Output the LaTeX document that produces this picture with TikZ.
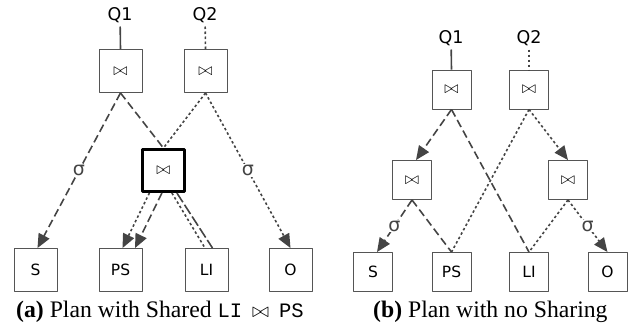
\documentclass[tikz,border=0pt]{standalone}
\usepackage{fontspec}
\setmainfont{Liberation Serif}
\setmonofont{Liberation Mono}
\newfontfamily\boxfont{DejaVu Sans}
\usetikzlibrary{arrows.meta}
\definecolor{edgegray}{HTML}{444444}
\definecolor{boxgray}{HTML}{555555}
\tikzset{
  opbox/.style={draw=boxgray,line width=0.9pt,fill=white,minimum size=43pt,inner sep=0pt,
    font=\boxfont\fontsize{15.5}{18}\selectfont},
  smallbox/.style={opbox,minimum size=39pt},
  sharedbox/.style={opbox,draw=black,line width=3pt,minimum size=42pt},
  qlab/.style={font=\boxfont\fontsize{17.5}{20}\selectfont,inner sep=0pt,outer sep=6pt,
    text height=13pt,text depth=0pt},
  sig/.style={font=\boxfont\fontsize{19}{21}\selectfont,fill=white,inner sep=1pt,midway},
  qoneline/.style={draw=edgegray,line width=1.6pt,dash pattern=on 8pt off 4pt},
  qtwoline/.style={draw=edgegray,line width=1.6pt,dash pattern=on 2.5pt off 2.5pt},
  tip/.style={-{Triangle[length=14pt,width=12pt]},edgegray},
  caption text/.style={font=\fontsize{23.7}{26}\selectfont,inner sep=0pt,anchor=base west}
}
\newcommand{\jn}{{\fontsize{16}{18}\selectfont$\bowtie$}}
\begin{document}
\begin{tikzpicture}[x=1pt,y=-1pt,line cap=butt,line join=round]
  \useasboundingbox (0,0) rectangle (632,330);
  % (a) shared join
  \node[qlab] (qA1) at (120,14) {Q1};
  \node[qlab] (qA2) at (205,14) {Q2};
  \node[opbox] (jA1) at (120.5,71) {\jn};
  \node[opbox] (jA2) at (205.5,71) {\jn};
  \node[sharedbox] (jsh) at (163.4,170.5) {\jn};
  \node[opbox] (sA) at (35.5,270) {S};
  \node[opbox] (psA) at (120.5,270) {PS};
  \node[opbox] (liA) at (206.5,270) {LI};
  \node[opbox] (oA) at (290.5,270) {O};
  \draw[draw=edgegray,line width=1.6pt] (qA1) -- (jA1.north);
  \draw[qtwoline] (qA2) -- (jA2.north);
  \draw[qoneline,tip] (jA1.south) -- node[sig] (sgA1) {σ} ([xshift=2pt]sA.north);
  \draw[qoneline] (jA1.south) -- (jsh.north);
  \draw[qtwoline] (jA2.south) -- (jsh.north);
  \draw[qtwoline,tip] (jA2.south) -- node[sig] (sgA2) {σ} (oA.north);
  \draw[qtwoline,tip] ([xshift=-14pt]jsh.south) -- ([xshift=2pt]psA.north);
  \draw[qoneline,tip] ([xshift=-1.5pt]jsh.south) -- ([xshift=14.5pt]psA.north);
  \draw[qtwoline] ([xshift=8.5pt]jsh.south) -- ([xshift=-1.5pt]liA.north);
  \draw[qoneline,dash pattern=on 11pt off 3pt] ([xshift=13.5pt]jsh.south) -- ([xshift=6pt]liA.north);
  \node[caption text] (capA) at (16,317) {\textbf{(a)} Plan with Shared
    {\fontsize{20.5}{24}\ttfamily LI \makebox[0.6em]{$\bowtie$} PS}};
  % (b) no sharing
  \node[qlab] (qB1) at (451,37) {Q1};
  \node[qlab] (qB2) at (529,37) {Q2};
  \node[smallbox] (jB1) at (451.5,89.5) {\jn};
  \node[smallbox] (jB2) at (529,89.5) {\jn};
  \node[smallbox] (mB1) at (412,180) {\jn};
  \node[smallbox] (mB2) at (568,180) {\jn};
  \node[smallbox] (sB) at (373,272) {S};
  \node[smallbox] (psB) at (451.5,272) {PS};
  \node[smallbox] (liB) at (529,272) {LI};
  \node[smallbox] (oB) at (607.5,272) {O};
  \draw[draw=edgegray,line width=1.6pt] (qB1) -- (jB1.north);
  \draw[qtwoline] (qB2) -- (jB2.north);
  \draw[qoneline,tip] (jB1.south) -- ([xshift=4pt]mB1.north);
  \draw[qoneline] (jB1.south) -- (liB.north);
  \draw[qtwoline] (jB2.south) -- (psB.north);
  \draw[qtwoline,tip] (jB2.south) -- (mB2.north);
  \draw[qoneline,tip] (mB1.south) -- node[sig] (sgB1) {σ} ([xshift=4pt]sB.north);
  \draw[qoneline] (mB1.south) -- (psB.north);
  \draw[qtwoline] (mB2.south) -- (liB.north);
  \draw[qtwoline,tip] (mB2.south) -- node[sig] (sgB2) {σ} (oB.north);
  \node[caption text] (capB) at (373,317) {\textbf{(b)} Plan with no Sharing};
\end{tikzpicture}
\end{document}
